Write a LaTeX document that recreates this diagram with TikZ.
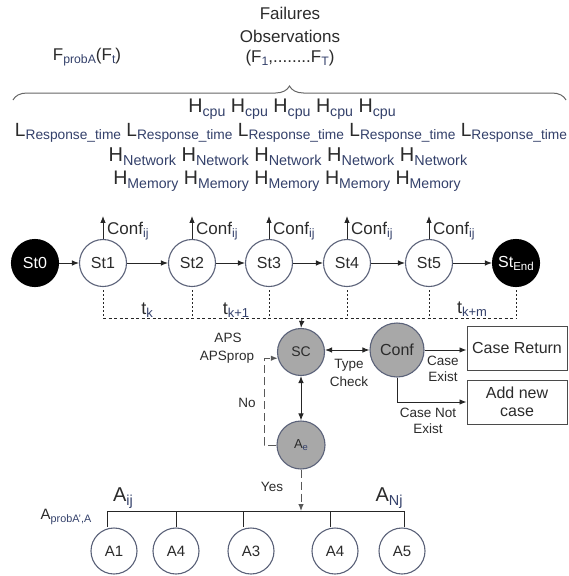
\documentclass[tikz,border=0pt]{standalone}
\usepackage{fontspec}
\setmainfont{Liberation Sans}
\usepackage{graphicx}
\usetikzlibrary{arrows.meta,decorations.pathreplacing,calc}
\definecolor{txt}{HTML}{2B2B2B}
\definecolor{subc}{HTML}{33406A}
\definecolor{ring}{HTML}{5B6279}
\definecolor{fillg}{HTML}{A8A8A8}
\newcommand\lsub[1]{\raisebox{-0.35ex}{\scalebox{0.72}{\color{subc}#1}}}
\newcommand\fs[1]{\fontsize{#1}{#1}\selectfont}
\begin{document}
\begin{tikzpicture}[x=1pt,y=-1pt,
  every node/.style={text=txt, inner sep=0pt},
  lbl/.style={font=\fs{17}},
  small/.style={font=\fs{13.5}, align=center},
  state/.style={circle, draw=ring, line width=1.1pt, fill=white, minimum size=47pt, font=\fs{16}},
  term/.style={state, fill=black, draw=black, text=white},
  grey/.style={state, fill=fillg},
  act/.style={state, minimum size=46pt, font=\fs{15}},
  box/.style={draw=txt!85, line width=1pt, minimum width=100pt, minimum height=44pt, font=\fs{16}, align=center},
  conn/.style={draw=black!85, line width=0.9pt},
  tip/.style={-{Latex[length=7pt,width=5.5pt]}},
  dtip/.style={{Latex[length=7pt,width=5.5pt]}-{Latex[length=7pt,width=5.5pt]}},
  vdot/.style={conn, dash pattern=on 1.5pt off 2.5pt},
  hdash/.style={conn, dash pattern=on 3pt off 2.5pt},
  ldash/.style={draw=black!65, line width=1pt, dash pattern=on 8pt off 4pt}
]
\useasboundingbox (0,0) rectangle (568,576);

% top labels
\node[lbl] (fail) at (290,13) {Failures};
\node[lbl] (obs) at (290,36) {Observations};
\node[lbl] (ft) at (290,58) {(F\lsub{1},........F\lsub{T})};
\node[lbl] (fprob) at (87,57) {F\lsub{probA}(F\lsub{t})};

% brace
\coordinate (bl) at (13,100);
\coordinate (br) at (566,100);
\draw[decorate, decoration={brace, amplitude=14pt}, draw=black!60, line width=1pt] (bl) -- (br);

% metric rows
\node[font=\fs{19.7}] (rcpu) at (292,109) {H\lsub{cpu} H\lsub{cpu} H\lsub{cpu} H\lsub{cpu} H\lsub{cpu}};
\node[font=\fs{19.1}] (rresp) at (291,133) {L\lsub{Response\_time} L\lsub{Response\_time} L\lsub{Response\_time} L\lsub{Response\_time} L\lsub{Response\_time}};
\node[font=\fs{20}] (rnet) at (288,157) {H\lsub{Network} H\lsub{Network} H\lsub{Network} H\lsub{Network} H\lsub{Network}};
\node[font=\fs{19.6}] (rmem) at (287,181) {H\lsub{Memory} H\lsub{Memory} H\lsub{Memory} H\lsub{Memory} H\lsub{Memory}};

% states
\node[term] (s0) at (35,263) {St0};
\node[state] (s1) at (103,263) {St1};
\node[state] (s2) at (192,263) {St2};
\node[state] (s3) at (269,263) {St3};
\node[state] (s4) at (347,263) {St4};
\node[state] (s5) at (429,263) {St5};
\node[term] (se) at (516,263) {St\lsub{\color{white}End}};

\draw[conn,tip] (s0) -- (s1);
\draw[conn,tip] (s1) -- (s2);
\draw[conn,tip] (s2) -- (s3);
\draw[conn,tip] (s3) -- (s4);
\draw[conn,tip] (s4) -- (s5);
\draw[conn,tip] (s5) -- (se);

% conf arrows
\foreach \s/\i in {s1/1,s2/2,s3/3,s4/4,s5/5}{
  \coordinate (up\i) at ($(\s.north)+(0,-23)$);
  \draw[conn,tip] (\s.north) -- (up\i);
  \node[lbl, anchor=west] (cf\i) at ($(\s.north)+(4,-8)$) {Conf\lsub{ij}};
}

% time dotted lines
\foreach \s/\i in {s1/1,s2/2,s3/3,s4/4,s5/5,se/6}{
  \coordinate (d\i) at (\s.south |- 0,318);
  \draw[vdot] ($(\s.south)+(0,3)$) -- (d\i);
}
\draw[hdash] (d1) -- (d6);
\node[font=\fs{18}] (tk) at (147,310) {t\lsub{k}};
\node[font=\fs{18}] (tk1) at (236,310) {t\lsub{k+1}};
\node[font=\fs{18}] (tkm) at (472,309) {t\lsub{k+m}};

% middle section
\node[grey, font=\fs{14}] (sc) at (301,352) {SC};
\node[grey, minimum size=54pt, font=\fs{16}] (conf) at (397,350) {Conf};
\node[grey, minimum size=48pt, font=\fs{13}] (ae) at (301,445) {A\lsub{e}};
\coordinate (dm) at (302,318);
\draw[conn,tip] (dm) -- (sc.north);
\draw[conn,dtip] (sc.east |- conf.west) -- (conf.west);
\draw[conn,dtip] (sc.south) -- (ae.north);

\node[small] (tc) at (349,373) {Type\\[4pt]Check};
\node[small] (aps) at (228,338) {APS};
\node[small] (apsp) at (227,357) {APSprop};
\node[small] (no) at (247,403) {No};
\node[small] (yes) at (272,487) {Yes};

\node[box] (cret) at (517,348) {Case Return};
\node[box] (cnew) at (517,402) {Add new\\[2pt]case};
\draw[conn,tip] (conf.east) -- (cret.west |- conf.east);
\draw[conn,tip] (conf.south) |- (cnew.west);
\node[small] (cex) at (443,369) {Case\\[3pt]Exist};
\node[small] (cnex) at (428,421) {Case Not\\[3pt]Exist};

\draw[ldash,tip] (ae.west) -- ++(-12,0) |- (sc.195);

% bottom actions
\coordinate (t1) at (107,511);
\coordinate (t2) at (176,511);
\coordinate (t3) at (243,511);
\coordinate (t4) at (330,511);
\coordinate (t5) at (404,511);
\draw[ldash,tip] (ae.south) -- (ae.south |- t1);
\draw[conn] (t1) -- (t5);
\node[act] (a1) at (114,551) {A1};
\node[act] (a2) at (176,551) {A4};
\node[act] (a3) at (251,551) {A3};
\node[act] (a4) at (335,551) {A4};
\node[act] (a5) at (402,551) {A5};
\draw[conn] (t1) -- (t1 |- a1.north);
\draw[conn] (t2) -- (a2.north);
\draw[conn] (t3) -- (t3 |- a3.north);
\draw[conn] (t4) -- (t4 |- a4.north);
\draw[conn] (t5) -- (t5 |- a5.north);

\node[font=\fs{20}] (aij) at (123,498) {A\lsub{ij}};
\node[font=\fs{20}] (anj) at (389,498) {A\lsub{Nj}};
\node[font=\fs{15}] (aprob) at (66,517) {A\lsub{probA',A}};
\end{tikzpicture}
\end{document}
